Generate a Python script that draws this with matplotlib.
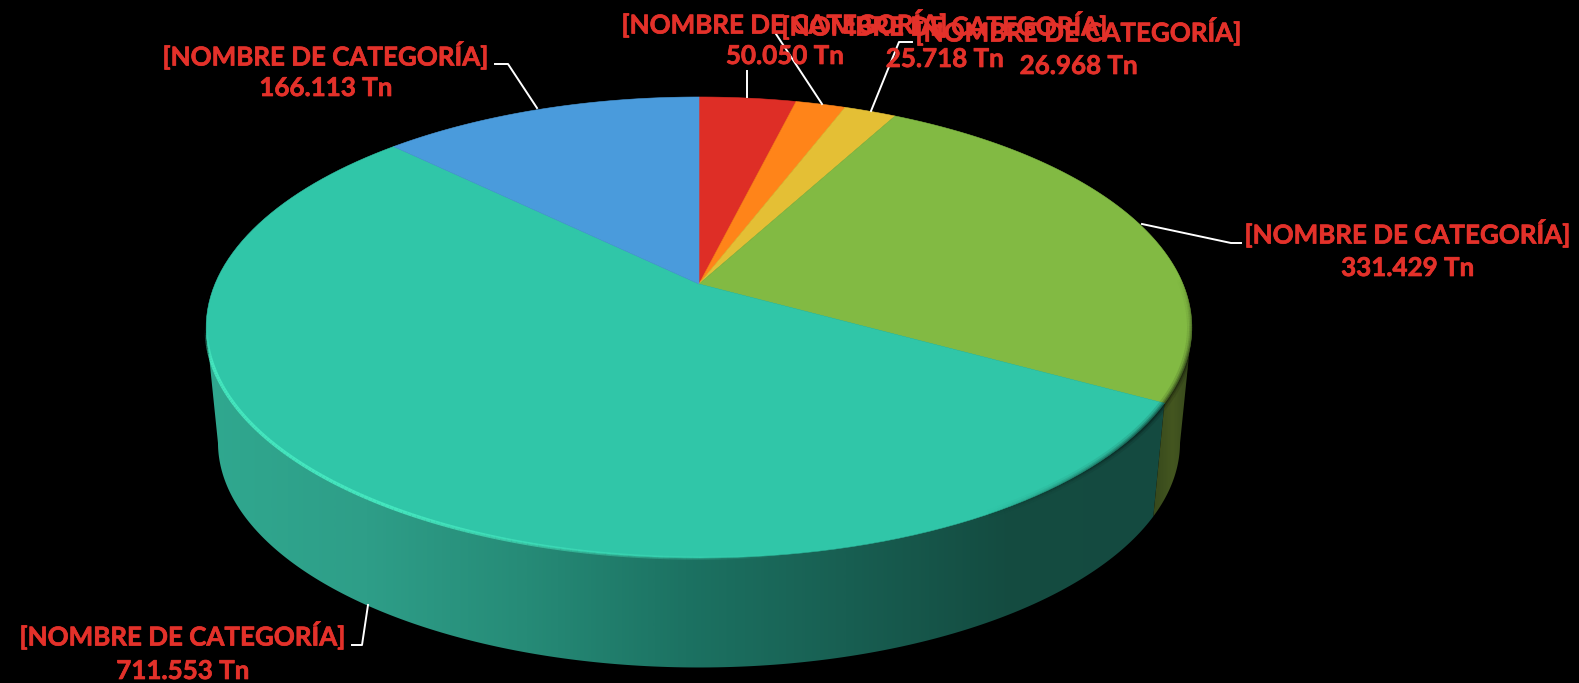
import numpy as np
import matplotlib
matplotlib.use("Agg")
import matplotlib.pyplot as plt
import matplotlib.patheffects as pe
from matplotlib.collections import LineCollection
from matplotlib.colors import LinearSegmentedColormap
from matplotlib.patches import Polygon

# -----------------------------
# 1. Data
# -----------------------------
label_name = "[NOMBRE DE CATEGORÍA]"
values = [50.050, 25.718, 26.968, 331.429, 711.553, 166.113]
value_labels = ["50.050 Tn", "25.718 Tn", "26.968 Tn", "331.429 Tn", "711.553 Tn", "166.113 Tn"]
colors = ["#DE2E26", "#FF8419", "#E4BF35", "#82BA43", "#30C6A8", "#4A9BDC"]

# label centres, pixels
label_x = [785, 945, 1079, 1408, 183, 326]
label_y1 = [23, 25, 31, 233, 635, 55]
label_y2 = [56, 59, 66, 268, 671, 88]

# leader lines, pixels
leaders = [
    [(747, 97), (747, 71)],
    [(822, 104), (776, 34)],
    [(871, 111), (899, 42), (912, 42)],
    [(1142, 224), (1231, 243), (1241, 243)],
    [(368, 605), (362, 645), (352, 645)],
    [(537, 108), (508, 64), (495, 64)],
]

# -----------------------------
# 2. Pie geometry (perspective disc)
# -----------------------------
cx, cy = 699, 284      # pie centre on screen
a_par, b_par, k = 484, 222.3, 0.1887
ell_cy = 328           # centre of the top ellipse
low_cy, low_s = 443, 0.976   # bottom ellipse


def top_xy(deg):
    t = np.radians(deg)
    u, v = np.sin(t), np.cos(t)
    w = 1 + k * v
    return cx + a_par * u / w, cy - b_par * v / w


def low_xy(deg):
    x, y = top_xy(deg)
    return cx + (x - cx) * low_s, low_cy + (y - ell_cy) * low_s


edges = np.concatenate([[0], np.cumsum(values)]) / np.sum(values) * 360

# where the rim turns away from the viewer
scan = np.arange(0, 360, 0.25)
right_deg = scan[np.argmax(top_xy(scan)[0])]
left_deg = scan[np.argmin(top_xy(scan)[0])]

fig = plt.figure(figsize=(15.79, 6.83), dpi=100, facecolor="black")
ax = fig.add_axes([0, 0, 1, 1])
ax.set_xlim(0, 1579)
ax.set_ylim(683, 0)
ax.axis("off")

# -----------------------------
# 3. Side walls with horizontal gradient
# -----------------------------
def side(deg0, deg1, stops, z):
    t = np.linspace(deg0, deg1, 200)
    xt, yt = top_xy(t)
    xb, yb = low_xy(t)
    pts = np.column_stack([np.r_[xt, xb[::-1]], np.r_[yt, yb[::-1]]])
    cmap = LinearSegmentedColormap.from_list("side", stops)
    grad = np.linspace(0, 1, 512).reshape(1, -1)
    im = ax.imshow(grad, cmap=cmap, extent=(pts[:, 0].min(), pts[:, 0].max(), 683, 0),
                   aspect="auto", zorder=z)
    clip = Polygon(pts, transform=ax.transData, facecolor="none", edgecolor="none")
    ax.add_patch(clip)
    im.set_clip_path(clip)


side(edges[4], left_deg,
     ["#30A88F", "#2E9E88", "#268B77", "#1C7262", "#185F52", "#144C41", "#154A40"], 1)
side(right_deg, edges[4], ["#36481C", "#445620", "#36481C"], 1)
ax.set_xlim(0, 1579)
ax.set_ylim(683, 0)

# -----------------------------
# 4. Top surface
# -----------------------------
for i, c in enumerate(colors):
    t = np.linspace(edges[i], edges[i + 1], 120)
    x, y = top_xy(t)
    ax.fill(np.r_[cx, x], np.r_[cy, y], color=c, lw=0.4, zorder=3)

# light rim along the front left
t = np.linspace(left_deg, 170, 160)
x, y = top_xy(t)
segs = np.stack([np.column_stack([x[:-1], y[:-1]]), np.column_stack([x[1:], y[1:]])], axis=1)
alpha = np.clip((t[:-1] - 172) / 40, 0, 1) * np.clip((left_deg - t[:-1]) / 8, 0, 1) * 0.9
ax.add_collection(LineCollection(segs, colors=[(0.28, 0.92, 0.76, a) for a in alpha],
                                 linewidths=2.5, zorder=4))

# soft dark edge on the right
t = np.linspace(88, 150, 100)
x, y = top_xy(t)
segs = np.stack([np.column_stack([x[:-1], y[:-1]]), np.column_stack([x[1:], y[1:]])], axis=1)
alpha = np.clip((t[:-1] - 88) / 20, 0, 1) * np.clip((150 - t[:-1]) / 25, 0, 1)
for w, strength in [(7, 0.10), (4, 0.18), (2, 0.25)]:
    ax.add_collection(LineCollection(segs, colors=[(0, 0, 0, a * strength) for a in alpha],
                                     linewidths=w, zorder=4))

# -----------------------------
# 5. Labels and leader lines
# -----------------------------
for pts in leaders:
    xs, ys = zip(*pts)
    ax.plot(xs, ys, color="white", lw=1.4, zorder=5, solid_joinstyle="round")

for i in range(len(values)):
    for yy, s in [(label_y1[i], label_name), (label_y2[i], value_labels[i])]:
        ax.text(label_x[i], yy, s, color="#E3312A", fontsize=18.7, fontweight="bold",
                family="Lato", ha="center", va="center", zorder=6,
                path_effects=[pe.withStroke(linewidth=0.5, foreground="#E3312A")])

fig.savefig("out.png", dpi=100, facecolor="black")
